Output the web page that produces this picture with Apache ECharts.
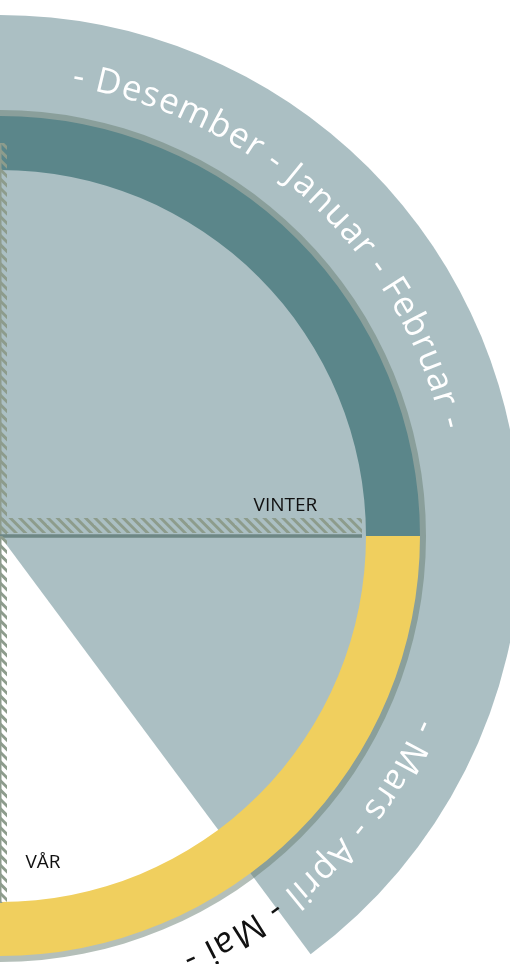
<!DOCTYPE html>
<html><head><meta charset="utf-8">
<script src="https://cdn.jsdelivr.net/npm/echarts@6/dist/echarts.min.js"></script>
<style>html,body{margin:0;padding:0;background:#fff}#c{width:510px;height:964px}</style>
</head><body><div id="c"></div>
<script>
// ---- data ----
const YEAR_MONTHS = 12;
const seasons = ['VINTER', 'VÅR'];
const seasonMonths = [3, 3];
const seasonMonthText = ['- Desember - Januar - Februar -', '- Mars - April - Mai -'];
const elapsedMonths = 4.78;          // progress through the year, counted from 1 December
const boundaryMonths = [0, 3, 6];    // season borders

// ---- layout / style ----
const CX = 0, CY = 536;
const R_OUTER = 521, RING_IN = 366, RING_OUT = 420, BORDER_OUT = 426;
const TEXT_R = 465, TEXT_SIZE = 35, TEXT_SPACING = 1.5;
const textShift = [-0.073, 0.0];
const LABEL_SIZE = 19, FONT_FAMILY = 'Open Sans';
const labelLayout = [{ r: 287, a: 2.8 }, { r: 329, a: 5.75 }];
const boundaryLayout = [
  { len: 393, off: [0, -7], lw: 3, lc: '#8e9c8e' },
  { len: 362, off: [3, 18], lw: 3.5, lc: '#6e8785' },
  { len: 367, off: [0, 7], lw: 3, lc: '#8e9c8e' }
];
const COL = { band: '#abbfc3', ring: ['#5b868a', '#f0cf5e'], border: 'rgba(105,128,115,0.5)', hatch: '#8d9c8c' };
const NONE = 'rgba(0,0,0,0)';

// hatch pattern
const pc = document.createElement('canvas');
pc.width = 47; pc.height = 47;
const pctx = pc.getContext('2d');
pctx.strokeStyle = COL.hatch; pctx.lineWidth = 2.9;
for (let k = -6; k <= 11; k++) {
  const c = k * 9.4;
  pctx.beginPath(); pctx.moveTo(c - 47, -47); pctx.lineTo(c + 94, 94); pctx.stroke();
}
const hatchPattern = { image: pc, repeat: 'repeat' };

const mctx = document.createElement('canvas').getContext('2d');

const seasonStart = [];
seasonMonths.reduce((acc, m) => { seasonStart.push(acc); return acc + m; }, 0);
const totalSeasonMonths = seasonMonths.reduce((a, b) => a + b, 0);
const restMonths = YEAR_MONTHS - totalSeasonMonths;

const chart = echarts.init(document.getElementById('c'), null, { renderer: 'canvas' });

const pieBase = {
  type: 'pie', silent: true, center: [CX, CY], startAngle: 90, clockwise: true, z: 1,
  label: { show: false }, labelLine: { show: false }, emphasis: { disabled: true },
  itemStyle: { borderWidth: 0 }
};

chart.setOption({
  animation: false,
  polar: { center: [CX, CY], radius: R_OUTER },
  angleAxis: { type: 'value', min: 0, max: YEAR_MONTHS, startAngle: 90, clockwise: true, show: false },
  radiusAxis: { type: 'value', min: 0, max: R_OUTER, show: false },
  series: [
    Object.assign({}, pieBase, {
      radius: [0, R_OUTER],
      data: [
        { value: elapsedMonths, itemStyle: { color: COL.band } },
        { value: YEAR_MONTHS - elapsedMonths, itemStyle: { color: NONE } }
      ]
    }),
    Object.assign({}, pieBase, {
      radius: [RING_OUT - 1, BORDER_OUT],
      data: [
        { value: totalSeasonMonths, itemStyle: { color: COL.border } },
        { value: restMonths, itemStyle: { color: NONE } }
      ]
    }),
    Object.assign({}, pieBase, {
      radius: [RING_IN, RING_OUT],
      data: seasons.map((s, i) => ({ name: s, value: seasonMonths[i], itemStyle: { color: COL.ring[i] } }))
        .concat([{ value: restMonths, itemStyle: { color: NONE } }])
    }),
    {
      // season border markers
      type: 'custom', coordinateSystem: 'polar', silent: true, z: 10,
      encode: { radius: 0, angle: 1 },
      data: boundaryMonths.map((m, i) => [boundaryLayout[i].len, m, i]),
      renderItem: function (params, api) {
        const i = api.value(2), lay = boundaryLayout[i];
        const p0 = api.coord([0, api.value(1)]);
        const p1 = api.coord([api.value(0), api.value(1)]);
        const dx = p1[0] - p0[0], dy = p1[1] - p0[1], L = Math.hypot(dx, dy);
        const d = [dx / L, dy / L], n = [d[1], -d[0]];
        const o1 = lay.off[0], o2 = lay.off[1];
        const pts = [
          [p0[0] + n[0] * o1, p0[1] + n[1] * o1],
          [p1[0] + n[0] * o1, p1[1] + n[1] * o1],
          [p1[0] + n[0] * o2, p1[1] + n[1] * o2],
          [p0[0] + n[0] * o2, p0[1] + n[1] * o2]
        ];
        return {
          type: 'group', children: [
            { type: 'polygon', shape: { points: pts }, style: { fill: hatchPattern } },
            { type: 'line', shape: { x1: p0[0], y1: p0[1], x2: p1[0], y2: p1[1] }, style: { stroke: lay.lc, lineWidth: lay.lw } }
          ]
        };
      }
    },
    {
      // month names along the outer band
      type: 'custom', coordinateSystem: 'polar', silent: true, z: 11,
      encode: { radius: 0, angle: 1 },
      data: seasons.map((s, i) => [TEXT_R, seasonStart[i] + seasonMonths[i] / 2 + textShift[i], i]),
      renderItem: function (params, api) {
        const i = api.value(2), r = api.value(0), mid = api.value(1);
        const chars = Array.from(seasonMonthText[i]);
        mctx.font = TEXT_SIZE + 'px "' + FONT_FAMILY + '"';
        const widths = chars.map(ch => mctx.measureText(ch).width + TEXT_SPACING);
        const total = widths.reduce((a, b) => a + b, 0) - TEXT_SPACING;
        const pxPerMonth = 2 * Math.PI * r / YEAR_MONTHS;
        let a = mid - total / 2 / pxPerMonth;
        const children = [];
        chars.forEach((ch, k) => {
          const w = widths[k] - TEXT_SPACING;
          const ac = a + w / 2 / pxPerMonth;
          a += widths[k] / pxPerMonth;
          if (ch === ' ') return;
          const p = api.coord([r, ac]);
          children.push({
            type: 'text', x: p[0], y: p[1], rotation: -ac / YEAR_MONTHS * 2 * Math.PI,
            style: { text: ch, fill: ac <= elapsedMonths ? '#ffffff' : '#111111',
              fontSize: TEXT_SIZE, fontFamily: FONT_FAMILY,
              align: 'center', verticalAlign: 'middle' }
          });
        });
        return { type: 'group', children: children };
      }
    },
    {
      // season names
      type: 'custom', coordinateSystem: 'polar', silent: true, z: 12,
      encode: { radius: 0, angle: 1 },
      data: seasons.map((s, i) => [labelLayout[i].r, labelLayout[i].a, i]),
      renderItem: function (params, api) {
        const p = api.coord([api.value(0), api.value(1)]);
        return {
          type: 'text', x: p[0], y: p[1],
          style: { text: seasons[api.value(2)], fill: '#111111', fontSize: LABEL_SIZE, fontFamily: FONT_FAMILY,
            align: 'center', verticalAlign: 'middle' }
        };
      }
    }
  ]
});
</script></body></html>
